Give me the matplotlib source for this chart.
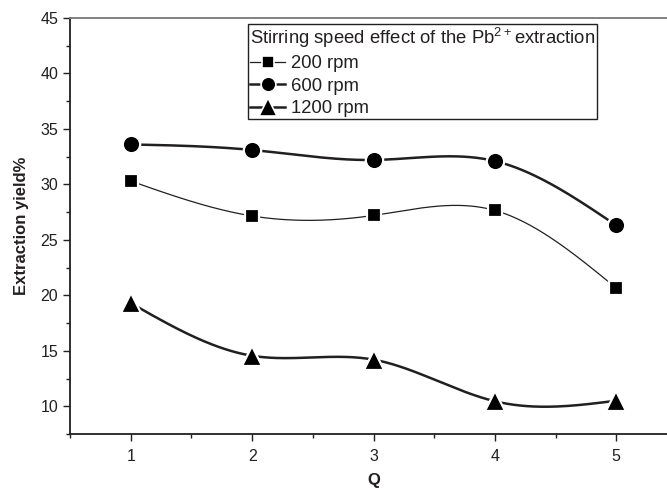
import numpy as np
import matplotlib.pyplot as plt

q_values = [1, 2, 3, 4, 5]
yield_200 = [30.3, 27.15, 27.2, 27.65, 20.65]
yield_600 = [33.6, 33.1, 32.2, 32.1, 26.3]
yield_1200 = [19.3, 14.55, 14.2, 10.45, 10.5]

series_labels = ["200 rpm", "600 rpm", "1200 rpm"]
legend_title = "Stirring speed effect of the Pb$^{2+}$extraction"

ink = "#231f20"


def smooth_curve(x, y, n=300):
    """Natural cubic spline through the points, used only to draw the line."""
    x = np.asarray(x, float)
    y = np.asarray(y, float)
    k = len(x)
    h = np.diff(x)
    a = np.zeros((k, k))
    b = np.zeros(k)
    a[0, 0] = a[-1, -1] = 1.0
    for i in range(1, k - 1):
        a[i, i - 1] = h[i - 1]
        a[i, i] = 2 * (h[i - 1] + h[i])
        a[i, i + 1] = h[i]
        b[i] = 6 * ((y[i + 1] - y[i]) / h[i] - (y[i] - y[i - 1]) / h[i - 1])
    m = np.linalg.solve(a, b)
    xs = np.linspace(x[0], x[-1], n)
    idx = np.clip(np.searchsorted(x, xs) - 1, 0, k - 2)
    x0, x1 = x[idx], x[idx + 1]
    hh = x1 - x0
    t0, t1 = x1 - xs, xs - x0
    ys = (m[idx] * t0 ** 3 / (6 * hh) + m[idx + 1] * t1 ** 3 / (6 * hh)
          + (y[idx] / hh - m[idx] * hh / 6) * t0
          + (y[idx + 1] / hh - m[idx + 1] * hh / 6) * t1)
    return xs, ys


plt.rcParams['font.family'] = ['Liberation Sans', 'DejaVu Sans']
plt.rcParams['mathtext.fontset'] = 'custom'
plt.rcParams['mathtext.rm'] = 'Liberation Sans'

fig = plt.figure(figsize=(6.67, 4.88), dpi=100)
ax = fig.add_axes([0.105, 0.1107, 0.910, 0.8525])

styles = [
    (yield_200, 's', 9.5, 0.9),
    (yield_600, 'o', 12.5, 1.8),
    (yield_1200, '^', 14.5, 1.8),
]

handles = []
for (vals, marker, ms, lw), label in zip(styles, series_labels):
    xs, ys = smooth_curve(q_values, vals)
    ax.plot(xs, ys, color=ink, lw=lw, zorder=2)
    ax.plot(q_values, vals, linestyle='none', marker=marker, ms=ms,
            mfc='black', mec='white', mew=1.6, zorder=3)
    h, = ax.plot([], [], color=ink, lw=lw, marker=marker, ms=ms * 0.85,
                 mfc='black', mec='white', mew=1.2, label=label)
    handles.append(h)

ax.set_xlim(0.5, 5.5)
ax.set_ylim(7.5, 45)
ax.set_xticks(q_values)
ax.set_xticks(np.arange(0.5, 5.6, 0.5), minor=True)
ax.set_yticks(np.arange(10, 46, 5))
ax.set_yticks(np.arange(7.5, 45.1, 2.5), minor=True)

ax.tick_params(axis='both', which='major', direction='out', length=5,
               width=1, color=ink, labelsize=11.5, labelcolor=ink)
ax.tick_params(axis='both', which='minor', direction='out', length=3,
               width=1, color=ink)
ax.tick_params(top=False, right=False, which='both')
ax.tick_params(axis='x', pad=6)

for side in ['left', 'bottom']:
    ax.spines[side].set_color(ink)
    ax.spines[side].set_linewidth(1.3)
for side in ['top', 'right']:
    ax.spines[side].set_color('#777777')
    ax.spines[side].set_linewidth(1.3)

ax.set_xlabel("Q", fontsize=12, fontweight='bold', color=ink, labelpad=6)
ax.set_ylabel("Extraction yield%", fontsize=12, fontweight='bold',
              color=ink, labelpad=8)

leg = ax.legend(handles=handles, title=legend_title, loc='upper left',
                bbox_to_anchor=(0.294, 0.986), fontsize=13.3,
                title_fontsize=13.3, frameon=True, fancybox=False,
                edgecolor=ink, framealpha=1, borderpad=0.1,
                labelspacing=0.3, handlelength=1.9, handletextpad=0.3,
                borderaxespad=0, alignment='left', numpoints=1)
leg.get_frame().set_linewidth(1.0)
leg.get_title().set_color(ink)
for t in leg.get_texts():
    t.set_color(ink)

fig.savefig("out.png", dpi=100)
